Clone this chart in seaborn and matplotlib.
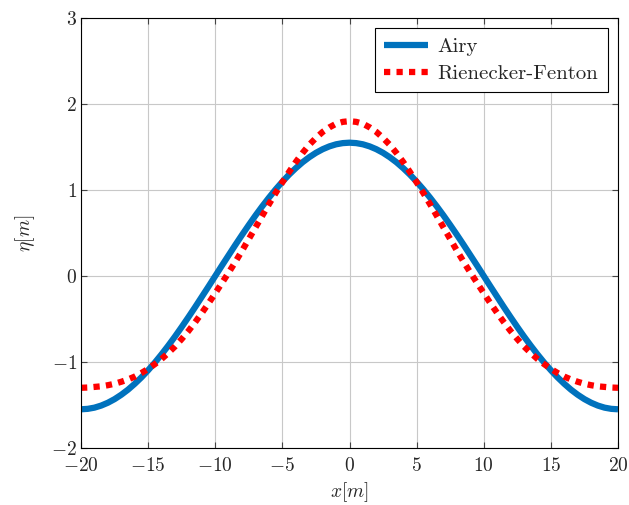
import matplotlib
matplotlib.use("Agg")
import matplotlib.pyplot as plt
import numpy as np
import pandas as pd
import seaborn as sns

# values (half-period, mirrored about x = 0)
x_pos = [0, 0.5, 1, 1.5, 2, 2.5, 3, 3.5, 4, 4.5, 5, 5.5, 6, 6.5, 7, 7.5, 8, 8.5, 9, 9.5,
         10, 10.5, 11, 11.5, 12, 12.5, 13, 13.5, 14, 14.5, 15, 15.5, 16, 16.5, 17, 17.5,
         18, 18.5, 19, 19.5, 20]
airy_half = [1.55, 1.545, 1.531, 1.507, 1.474, 1.432, 1.381, 1.322, 1.254, 1.179,
             1.096, 1.007, 0.911, 0.810, 0.704, 0.593, 0.479, 0.362, 0.242, 0.122,
             0.0, -0.122, -0.242, -0.362, -0.479, -0.593, -0.704, -0.810, -0.911, -1.007,
             -1.096, -1.179, -1.254, -1.322, -1.381, -1.432, -1.474, -1.507, -1.531, -1.545,
             -1.55]
rf_half = [1.80, 1.792, 1.77, 1.728, 1.675, 1.605, 1.525, 1.43, 1.325, 1.21,
           1.09, 0.965, 0.835, 0.70, 0.565, 0.43, 0.295, 0.165, 0.04, -0.08,
           -0.20, -0.318, -0.43, -0.538, -0.64, -0.733, -0.82, -0.895, -0.965, -1.025,
           -1.08, -1.128, -1.17, -1.203, -1.23, -1.253, -1.27, -1.283, -1.29, -1.297,
           -1.30]

x_vals = [-v for v in x_pos[:0:-1]] + x_pos
airy_vals = airy_half[:0:-1] + airy_half
rf_vals = rf_half[:0:-1] + rf_half

df = pd.DataFrame({"x": x_vals + x_vals,
                   "eta": airy_vals + rf_vals,
                   "model": ["Airy"] * len(x_vals) + ["Rienecker-Fenton"] * len(x_vals)})

sns.set_theme(style="white")
plt.rcParams["font.family"] = ["cmr10", "DejaVu Serif"]
plt.rcParams["mathtext.fontset"] = "cm"
plt.rcParams["axes.formatter.use_mathtext"] = True

fig = plt.figure(figsize=(6.29, 5.05), dpi=100)
ax = fig.add_axes([0.1288, 0.1129, 0.8537, 0.8515])

sns.lineplot(data=df[df.model == "Airy"], x="x", y="eta", color="#0072BD",
             linewidth=4.5, label="Airy", ax=ax)
sns.lineplot(data=df[df.model == "Rienecker-Fenton"], x="x", y="eta", color="red",
             linewidth=4.5, label="Rienecker-Fenton", ax=ax)
red = ax.lines[1]
red.set_linestyle((0, (1, 1)))
red.set_dash_capstyle("butt")
ax.lines[0].set_solid_capstyle("butt")
ax.lines[0].set_solid_joinstyle("round")

ax.set_xlim(-20, 20)
ax.set_ylim(-2, 3)
xt = [-20, -15, -10, -5, 0, 5, 10, 15, 20]
yt = [-2, -1, 0, 1, 2, 3]
ax.set_xticks(xt)
ax.set_yticks(yt)
ax.set_xticklabels([f"${v}$" if v >= 0 else f"$-{abs(v)}$" for v in xt])
ax.set_yticklabels([f"${v}$" if v >= 0 else f"$-{abs(v)}$" for v in yt])
ax.tick_params(direction="in", length=4, width=0.8, color="#444444",
               labelsize=14, top=True, right=True, bottom=True, left=True, pad=3)
ax.tick_params(axis="x", pad=6.5)
ax.grid(True, color="#c8c8c8", linewidth=0.8)
for s in ax.spines.values():
    s.set_color("black")
    s.set_linewidth(0.8)

ax.set_xlabel("$x[m]$", fontsize=14, labelpad=4)
ax.set_ylabel(r"$\eta[m]$", fontsize=14, labelpad=10)

leg = ax.legend(loc="upper right", fontsize=15, frameon=True, fancybox=False,
                edgecolor="black", framealpha=1, handlelength=2.1,
                borderaxespad=0.5, borderpad=0.45, labelspacing=0.38,
                handletextpad=0.45)
leg.get_frame().set_linewidth(0.8)

fig.savefig("out.png", dpi=100)
